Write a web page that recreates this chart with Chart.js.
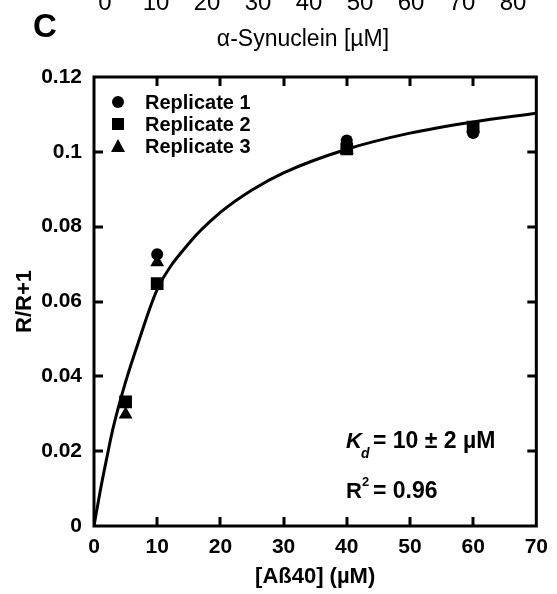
<!DOCTYPE html>
<html lang="en">
<head>
<meta charset="UTF-8">
<title>Binding curve</title>
<script src="https://cdn.jsdelivr.net/npm/chart.js"></script>
<style>
    html, body { margin: 0; padding: 0; background: #fff; }
    #wrap { position: relative; width: 557px; height: 594px; }
</style>
</head>
<body>
<div id="wrap">
    <canvas id="grafico" width="557" height="594"></canvas>
</div>

<script>
    // concentrações de Aß40 (µM) usadas nas medidas
    const concentracoes = [5, 10, 40, 60];
    const replicate1 = [0.033, 0.0726, 0.103, 0.105];
    const replicate2 = [0.0332, 0.0648, 0.1008, 0.1066];
    const replicate3 = [0.0298, 0.0705, 0.1005, 0.1063];

    // curva ajustada
    const curvaX = [0, 1, 2, 3, 5, 7, 10, 15, 20, 25, 30, 40, 50, 60, 70];
    const curvaY = [0, 0.0095, 0.018, 0.026, 0.0385, 0.049, 0.0632, 0.0755, 0.0838, 0.0898, 0.0944, 0.1007, 0.1050, 0.1080, 0.1103];

    const xTicks = [0, 10, 20, 30, 40, 50, 60, 70];
    const yTicks = [0, 0.02, 0.04, 0.06, 0.08, 0.1, 0.12];
    const yTickLabels = ['0', '0.02', '0.04', '0.06', '0.08', '0.1', '0.12'];

    // restos do painel de cima (cortado)
    const topoTicks = ['0', '10', '20', '30', '40', '50', '60', '70', '80'];

    const fonte = '"Liberation Sans", Arial, sans-serif';

    function pontos(xs, ys) {
        return xs.map(function (x, i) { return { x: x, y: ys[i] }; });
    }

    // moldura com ticks para dentro nos quatro lados + textos
    const extras = {
        id: 'extras',
        afterDraw: function (chart) {
            const ctx = chart.ctx;
            const a = chart.chartArea;
            const sx = chart.scales.x;
            const sy = chart.scales.y;
            ctx.save();
            ctx.strokeStyle = '#000';
            ctx.lineWidth = 3;
            ctx.lineCap = 'butt';
            ctx.strokeRect(a.left, a.top, a.right - a.left, a.bottom - a.top);
            const tl = 9;
            ctx.beginPath();
            xTicks.forEach(function (v) {
                if (v === 0 || v === 70) return;
                const px = Math.round(sx.getPixelForValue(v));
                ctx.moveTo(px, a.bottom); ctx.lineTo(px, a.bottom - tl);
                ctx.moveTo(px, a.top); ctx.lineTo(px, a.top + tl);
            });
            yTicks.forEach(function (v) {
                if (v === 0 || v === 0.12) return;
                const py = Math.round(sy.getPixelForValue(v));
                ctx.moveTo(a.left, py); ctx.lineTo(a.left + tl, py);
                ctx.moveTo(a.right, py); ctx.lineTo(a.right - tl, py);
            });
            ctx.stroke();

            ctx.fillStyle = '#000';
            ctx.textBaseline = 'alphabetic';

            // painel de cima
            ctx.font = '24px ' + fonte;
            ctx.textAlign = 'center';
            topoTicks.forEach(function (t, i) {
                ctx.fillText(t, 105 + i * 51, 10);
            });
            ctx.font = '23px ' + fonte;
            ctx.fillText('\u03b1-Synuclein [\u00b5M]', 303, 46);

            ctx.font = 'bold 33px ' + fonte;
            ctx.fillText('C', 45, 37);

            // legenda
            ctx.font = 'bold 20px ' + fonte;
            ctx.textAlign = 'left';
            const lx = 118;
            const ly = [102, 124, 146];
            const nomes = ['Replicate 1', 'Replicate 2', 'Replicate 3'];
            ctx.beginPath(); ctx.arc(lx, ly[0], 6, 0, Math.PI * 2); ctx.fill();
            ctx.fillRect(lx - 6, ly[1] - 6, 12, 12);
            ctx.beginPath();
            ctx.moveTo(lx, ly[2] - 7); ctx.lineTo(lx + 7, ly[2] + 6); ctx.lineTo(lx - 7, ly[2] + 6);
            ctx.closePath(); ctx.fill();
            nomes.forEach(function (n, i) { ctx.fillText(n, 145, ly[i] + 7); });

            // anotações
            ctx.font = 'italic bold 22px ' + fonte;
            ctx.fillText('K', 346, 448);
            ctx.font = 'italic bold 14px ' + fonte;
            ctx.fillText('d', 361, 458);
            ctx.font = 'bold 23px ' + fonte;
            ctx.fillText('= 10 \u00b1 2 \u00b5M', 373, 448);
            ctx.font = 'bold 22px ' + fonte;
            ctx.fillText('R', 346, 498);
            ctx.font = 'bold 13px ' + fonte;
            ctx.fillText('2', 362, 486);
            ctx.font = 'bold 23px ' + fonte;
            ctx.fillText('= 0.96', 373, 498);
            ctx.restore();
        }
    };

    const comum = {
        type: 'scatter',
        backgroundColor: '#000',
        borderColor: '#000',
        borderWidth: 0,
        showLine: false
    };

    const config = {
        type: 'scatter',
        data: {
            datasets: [
                Object.assign({}, comum, { label: 'Replicate 1', data: pontos(concentracoes, replicate1), pointStyle: 'circle', pointRadius: 6 }),
                Object.assign({}, comum, { label: 'Replicate 2', data: pontos(concentracoes, replicate2), pointStyle: 'rect', pointRadius: 9 }),
                Object.assign({}, comum, { label: 'Replicate 3', data: pontos(concentracoes, replicate3), pointStyle: 'triangle', pointRadius: 8 }),
                {
                    type: 'line',
                    label: 'Ajuste',
                    data: pontos(curvaX, curvaY),
                    borderColor: '#000',
                    borderWidth: 3,
                    pointRadius: 0,
                    fill: false,
                    cubicInterpolationMode: 'monotone'
                }
            ]
        },
        plugins: [extras],
        options: {
            responsive: false,
            animation: false,
            layout: { padding: { top: 77, right: 16, left: 0, bottom: 0 } },
            plugins: { legend: { display: false }, tooltip: { enabled: false } },
            scales: {
                x: {
                    type: 'linear', min: 0, max: 70,
                    afterFit: function (s) { s.height = 68; },
                    afterBuildTicks: function (s) { s.ticks = xTicks.map(function (v) { return { value: v }; }); },
                    grid: { display: false, drawTicks: false },
                    border: { display: false },
                    ticks: { color: '#000', padding: 9, font: { family: fonte, size: 21, weight: 'bold' } },
                    title: { display: true, text: '[A\u00df40] (\u00b5M)', color: '#000', padding: { top: 4, bottom: 4 }, font: { family: fonte, size: 22, weight: 'bold' } }
                },
                y: {
                    type: 'linear', min: 0, max: 0.12,
                    afterFit: function (s) { s.width = 94; },
                    afterBuildTicks: function (s) { s.ticks = yTicks.map(function (v) { return { value: v }; }); },
                    grid: { display: false, drawTicks: false },
                    border: { display: false },
                    ticks: {
                        color: '#000', padding: 12, font: { family: fonte, size: 21, weight: 'bold' },
                        callback: function (v, i) { return yTickLabels[i]; }
                    },
                    title: { display: true, text: 'R/R+1', color: '#000', padding: { top: 12, bottom: 0 }, font: { family: fonte, size: 22, weight: 'bold' } }
                }
            }
        }
    };

    new Chart(document.getElementById('grafico'), config);
</script>
</body>
</html>
